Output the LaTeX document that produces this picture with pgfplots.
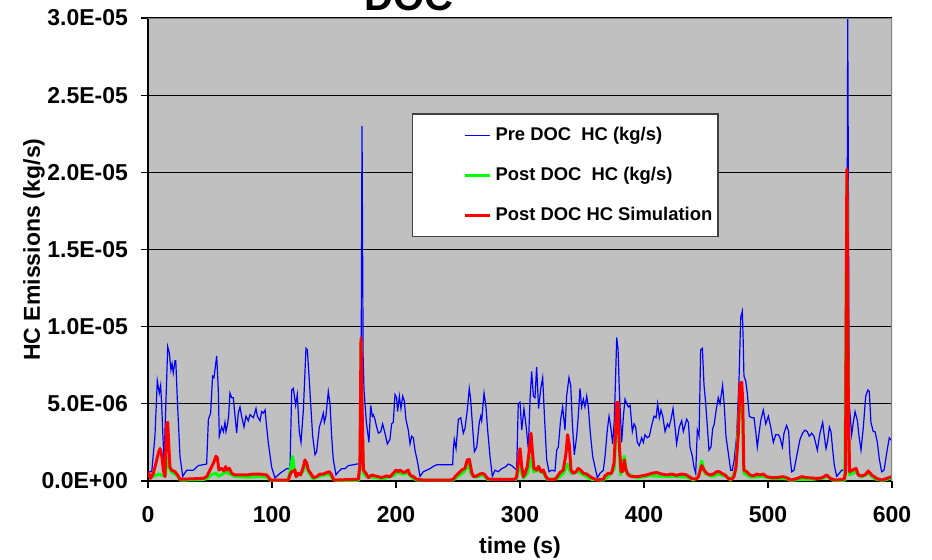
\documentclass[border=0pt]{standalone}
\usepackage{fontspec}
\setmainfont{Liberation Sans}
\usepackage{pgfplots}
\pgfplotsset{compat=1.18}

\definecolor{plotbg}{RGB}{192,192,192}
\definecolor{xlblue}{RGB}{0,0,255}
\definecolor{xlgreen}{RGB}{0,255,0}
\definecolor{xlred}{RGB}{255,0,0}

% values in 1E-06 kg/s, time in s
\pgfplotstableread{
t v
0 0.6
3 0.6
5.6 2.9
7.5 6.5
9.1 5.7
10.2 6.2
11 5.0
12.9 1.2
15.9 8.7
17.2 8.3
18.5 7.2
19.4 7.6
20.4 7.0
21.8 7.8
22.4 7.8
23.7 5.2
25.8 1.6
28 0.3
31.2 0.7
36.6 0.7
40.6 1.0
47.3 1.1
48.7 4.0
50.5 4.4
52.1 6.8
53.2 6.7
55.4 8.1
56.7 5.9
57.5 2.9
59.4 3.5
60.8 3.2
62.1 3.8
62.9 3.2
64.2 3.7
65 4.2
66.1 5.7
67.5 5.4
68.8 5.4
70.2 4.2
71.5 3.1
72.8 4.4
74.2 4.8
75.5 4.2
77.4 3.5
79 4.2
80.9 3.9
82.3 4.3
85 4.1
87.1 4.7
88.2 4.2
90.3 3.9
91.7 4.5
93 4.4
94.4 4.6
95.7 3.5
97 2.5
99.7 0.9
102.4 0.2
106.5 0.5
111.8 0.8
114.5 0.8
115.9 5.9
117.2 6.0
119.1 4.9
120.4 5.6
122 3.2
123.4 2.5
125.3 4.6
127.4 8.6
128.5 8.5
130.1 6.5
131.2 5.0
132.8 2.9
134.7 1.7
136 1.9
138.2 3.5
140.1 4.0
141.4 4.4
142.2 3.8
143.5 4.2
145.4 5.8
146.8 5.0
148.1 2.9
149.4 1.4
151.6 0.4
153.5 0.6
156.2 0.8
158.9 0.8
161.6 1.0
165.6 1.05
168.3 1.1
171.6 1.1
172.6 23.0
173.5 8.0
174.2 5.9
176.1 3.8
178.2 2.5
179.6 4.9
180.9 4.2
181.7 4.3
183 4.0
184.4 3.5
185.8 3.1
187.7 3.2
189.2 3.7
191.1 3.1
193 2.4
195.1 2.7
196.5 3.7
197.8 3.8
199.2 5.6
200.5 5.4
201.3 4.5
202.7 5.5
204 4.7
205.4 5.5
206.7 5.2
208 4.0
209.9 3.3
211.3 2.4
212.6 2.9
214 2.8
215.3 2.0
217.2 1.3
219.4 0.3
222 0.6
224.7 0.7
227.4 0.8
230.1 0.95
232.8 1.05
245.7 1.05
246.2 2.0
247 2.7
248.4 2.1
250.3 4.0
252.2 4.1
254.3 3.1
255.6 3.4
257.5 4.6
259.1 6.0
260.2 5.3
261.5 3.8
263.2 1.9
265.1 2.2
267.2 3.8
268.3 4.2
269.1 3.9
271 5.7
272.6 4.8
273.9 3.3
275.8 1.6
277.7 0.3
279.8 0.7
282.5 0.6
285.2 0.8
287.9 0.9
290.6 1.1
293.3 1.0
296 0.8
297.3 0.7
298.6 5.0
300 5.1
301.4 3.3
303.2 4.7
305 3.5
306.7 2.1
308.1 5.3
309.4 7.1
310.8 5.5
312.1 5.4
313.4 7.4
315 4.7
316.6 5.9
318.3 6.7
319.6 4.4
321.5 1.4
323.4 0.6
325.5 0.7
328.2 0.65
329.6 2.0
330.9 2.2
332.8 4.0
334.4 4.8
336.3 3.3
337.6 5.5
339.5 6.7
340.9 6.2
342.2 3.8
343.8 1.7
345.7 2.9
347 4.2
348.4 6.0
349.7 4.8
351.1 5.3
352.4 4.8
353.8 5.5
355.1 4.8
356.5 3.3
358.6 1.6
360.5 0.9
362.4 0.2
364.5 0.5
367.2 0.7
368.6 1.6
370.4 3.3
371.8 4.2
373.2 3.5
374.7 2.4
376.1 4.0
378 9.3
379.1 8.5
380.1 5.9
382 2.5
383.4 4.2
384.7 5.3
386.1 5.0
387.4 4.8
388.8 4.9
390.6 3.2
392 3.7
393.3 3.5
394.6 2.5
396.2 2.3
398.1 2.8
399.5 2.5
400.8 3.0
402.7 2.8
404.3 2.9
406.2 3.6
408.1 4.2
409.7 4.1
411 5.0
412.4 4.1
413.7 4.6
415.1 4.2
417 3.2
418.9 3.7
420.2 3.5
421.8 4.0
423.4 4.7
425 3.5
426.3 2.4
428.5 3.5
430.4 3.9
431.7 3.2
434.4 4.0
435.8 3.8
437.1 2.2
439 1.6
440.3 0.9
441.7 0.5
443 3.3
444.4 2.9
445.7 8.5
447.1 8.6
448.4 6.2
449.7 5.1
451.1 3.5
452.4 2.0
454 2.2
455.4 3.4
456.7 3.7
458 4.5
459.9 5.4
461.3 5.0
463.4 6.2
464.8 4.8
466.1 2.9
468 1.8
469.9 0.7
471.2 0.7
472.8 1.4
474.7 2.9
476.6 6.5
478 10.6
479.3 11.0
480 9.1
480.6 6.8
482 6.5
483.3 5.7
484.9 4.2
486.8 4.1
488.7 4.1
490.1 3.2
491.4 2.2
492.8 3.1
494.1 3.9
496.2 4.6
498.2 3.7
500.3 4.2
502.2 3.5
504.3 2.5
506.2 3.0
508.4 3.0
509.7 2.8
511.6 2.2
512.9 3.1
515 3.6
516.7 3.2
517.7 1.6
519.1 0.6
521 0.7
523.1 1.6
525.8 2.7
527.9 3.1
529.8 3.3
531.7 3.2
533.3 2.9
535.2 3.1
537.1 2.9
539.8 2.0
541.9 3.1
544.1 3.8
545.4 2.9
546.8 2.1
548.1 2.6
549.5 3.5
550.8 3.2
552.2 2.0
553.5 1.0
555.4 0.3
557.5 0.5
559.4 0.7
560.8 0.7
563.3 0.8
564.3 30.0
565.5 5.0
567.5 3.0
568.8 3.8
570.2 4.5
572.1 3.9
573.4 2.9
575 2.0
576.9 3.5
578.8 5.5
580.6 5.9
581.7 5.8
583 3.8
584.9 3.2
586.3 3.2
588.2 2.5
589.8 1.4
591.7 0.6
593.6 0.7
595.7 1.8
597.8 2.8
600 2.6
}\predoc

\pgfplotstableread{
t v
0 0.4
3 0.3
6 0.35
9 0.45
12 0.35
14 0.4
15.5 1.4
17 0.9
19 0.55
22 0.45
24 0.3
26 0.05
45 0.1
48 0.2
51 0.4
55 0.5
57 0.3
60 0.45
63 0.6
66 0.45
70 0.3
80 0.25
90 0.3
96 0.25
99 0.03
113 0.05
115.5 1.0
116.5 1.6
118 0.8
120 0.3
125 0.6
127 1.1
130 0.5
133 0.15
140 0.35
146 0.45
149 0.15
151 0.03
170 0.05
171 1.0
171.8 9.0
172.6 4.0
173.7 0.5
176 0.3
180 0.25
190 0.15
198 0.35
201 0.55
206 0.45
210 0.5
213 0.2
217 0.05
246 0.05
250 0.3
255 0.6
258 1.1
261 0.4
265 0.25
270 0.4
274 0.1
297 0.1
299.5 1.1
301 0.6
303 0.2
306 0.5
308.9 1.5
311 0.6
315 0.7
319 0.5
322 0.1
330 0.15
335 0.5
338.4 1.1
341 0.5
347 0.6
352 0.35
358 0.1
367 0.05
372 0.35
376 0.8
378 4.5
379.5 3.5
381 0.4
384.1 1.6
386 0.5
395 0.2
405 0.35
415 0.3
425 0.3
435 0.25
440 0.05
444 0.3
446.5 1.3
449 0.5
455 0.3
460 0.45
466 0.3
470 0.05
474 0.7
477.5 5.5
479.5 4.5
480.5 0.5
486 0.25
495 0.3
505 0.15
515 0.15
518 0.03
525 0.1
535 0.1
545 0.2
548 0.3
553 0.03
562 0.05
563.6 19.5
564.8 4.0
565.8 0.4
571 0.6
575 0.25
581 0.5
586 0.15
592 0.03
600 0.2
}\postdoc

\pgfplotstableread{
t v
0 0.6
2.1 0.17
4.3 0.5
6.4 1.15
8.3 1.8
9.7 2.1
11 1.7
12.4 0.7
13.7 0.28
15 3.7
15.9 3.8
16.9 2.1
17.7 0.9
19.1 0.7
21.8 0.6
23.7 0.4
25.8 0.11
44.6 0.17
47.3 0.28
50 0.71
52.7 1.15
54.8 1.6
55.9 1.5
57.2 0.71
59.4 0.82
61.3 0.65
62.6 0.93
64 0.71
65.6 0.82
67.5 0.5
70.2 0.39
74.2 0.39
79.6 0.39
85 0.45
90.3 0.45
95.7 0.39
99 0.06
113.2 0.06
114.5 0.4
115.9 0.6
118.5 0.71
119.4 0.28
121.2 0.5
123.1 0.39
125.3 0.93
126.6 1.37
128 1.15
129.3 0.71
131.2 0.5
133.3 0.22
136 0.28
138.7 0.45
141.4 0.45
144.1 0.55
146.3 0.6
148.1 0.39
150 0.06
169.6 0.11
170.9 1.0
171.8 9.25
172.6 5.0
173.7 0.71
175.8 0.5
177.7 0.22
180.4 0.39
183 0.33
185.8 0.28
188.4 0.22
192.5 0.33
195.2 0.28
197.8 0.5
200 0.71
201.9 0.6
203.2 0.71
205.9 0.55
207.8 0.6
209.9 0.71
211.3 0.39
214 0.28
216.7 0.11
222 0.06
243.5 0.06
246.2 0.11
247.6 0.28
250.3 0.5
253 0.71
255.6 0.82
257.5 1.37
259.1 1.4
261 0.6
262.4 0.28
265.1 0.33
267.7 0.45
269.9 0.5
271.8 0.39
273.7 0.17
275.8 0.11
296 0.11
297.3 0.28
299.2 1.6
300 2.1
301.4 0.93
302.7 0.28
304.1 0.5
305.9 0.93
307.5 2.0
308.9 3.1
309.9 2.0
311.3 0.82
313.4 0.71
315 0.95
316.9 0.6
318.8 0.71
320.9 0.28
322.8 0.11
328.2 0.11
330.1 0.28
332.3 0.55
334.9 0.71
337.1 1.8
338.4 3.0
339.8 2.3
341.1 0.71
343 0.5
345.2 0.6
347 0.82
348.9 0.71
351.1 0.5
353.8 0.45
356.5 0.28
359.1 0.17
361.8 0.06
367.2 0.11
368.5 0.33
371.2 0.5
373.9 0.5
375.8 1.15
377.2 3.3
378 5.1
379.1 5.1
380.1 2.3
381.5 0.6
382.8 0.6
384.1 1.37
385.5 0.71
387.4 0.39
390 0.28
394.1 0.28
398.1 0.33
402.2 0.39
406.2 0.5
410.2 0.55
414.3 0.45
418.3 0.39
422.3 0.45
426.3 0.37
430.4 0.45
434.4 0.39
438.4 0.17
441.9 0.11
443.9 0.28
446.5 1.0
448.4 0.71
450.5 0.5
453.2 0.39
455.9 0.45
458.6 0.6
460.8 0.6
462.6 0.5
465.3 0.39
468 0.17
470.7 0.11
472.6 0.28
474.2 0.93
476.1 3.1
477.4 6.3
478.8 6.4
479.6 5.2
480.5 0.71
482.8 0.6
485.5 0.39
488.2 0.33
490.9 0.45
493.5 0.39
496.2 0.45
498.9 0.28
502.9 0.22
506.9 0.22
512.4 0.28
516.4 0.17
518.3 0.06
521 0.11
523.7 0.17
527.2 0.28
531.2 0.22
535.2 0.2
539.2 0.17
543.3 0.2
547.3 0.39
550 0.17
554 0.06
561.3 0.11
562.5 0.5
563.6 20.2
564.8 5.0
565.8 0.6
568.3 0.71
571 0.82
572.8 0.39
575.5 0.33
578.2 0.39
580.9 0.65
583.6 0.39
587.6 0.17
591.7 0.06
595.7 0.17
599.7 0.28
}\simdoc

\begin{document}
\begin{tikzpicture}
\useasboundingbox (-74pt,-39pt) rectangle (392pt,240.5pt);
\begin{axis}[
    scale only axis,
    width=372pt,
    height=231.5pt,
    xmin=0, xmax=600,
    ymin=0, ymax=30,
    xtick={0,100,...,600},
    ytick={0,5,...,30},
    yticklabels={0.0E+00,5.0E-06,1.0E-05,1.5E-05,2.0E-05,2.5E-05,3.0E-05},
    axis x line*=bottom,
    axis y line*=left,
    axis line style={black, line width=0.8pt, -},
    tick align=outside,
    major tick length=3.5pt,
    tick style={black, line width=0.6pt},
    axis background/.style={fill=plotbg},
    ymajorgrids=true,
    major grid style={black, line width=0.6pt},
    /pgf/number format/assume math mode=true,
    tick label style={font=\bfseries\fontsize{11.5}{13}\selectfont},
    xticklabel style={yshift=-5.5pt},
    yticklabel style={xshift=-3pt},
    label style={font=\bfseries\fontsize{11.5}{13}\selectfont},
    xlabel={time (s)},
    ylabel={HC Emissions (kg/s)},
    xlabel style={at={(axis description cs:0.5,0)}, anchor=base, yshift=-36pt},
    ylabel style={at={(axis description cs:0,0.5)}, anchor=base, yshift=54pt},
    clip=true,
    legend cell align=left,
    legend image code/.code={\path (0pt,0pt); \draw[#1] (24.5pt,0pt) -- (37pt,0pt);},
    legend style={
        at={(0.3545,0.794)}, anchor=north west,
        draw=black!75, line width=0.8pt, fill=white,
        font=\bfseries\fontsize{9.2}{11}\selectfont,
        inner xsep=1pt, inner ysep=4.5pt,
        row sep=7.8pt,
        /tikz/every odd column/.append style={column sep=0pt},
        /tikz/every even column/.append style={column sep=4pt},
    },
]
\addplot[xlblue, line width=0.6pt] table[x=t, y=v] {\predoc};
\addlegendentry{Pre DOC\ \ HC (kg/s)}
\addplot[xlgreen, line width=1.5pt, line join=round] table[x=t, y=v] {\postdoc};
\addlegendentry{Post DOC\ \ HC (kg/s)}
\addplot[xlred, line width=1.5pt, line join=round] table[x=t, y=v] {\simdoc};
\addlegendentry{Post DOC HC Simulation}
\draw[black!50, line width=0.6pt] (rel axis cs:0,1) -- (rel axis cs:1,1) -- (rel axis cs:1,0);
\end{axis}
\node[anchor=base, font=\bfseries\fontsize{20}{24}\selectfont] at (130.5pt,235.5pt) {DOC};
\end{tikzpicture}
\end{document}
